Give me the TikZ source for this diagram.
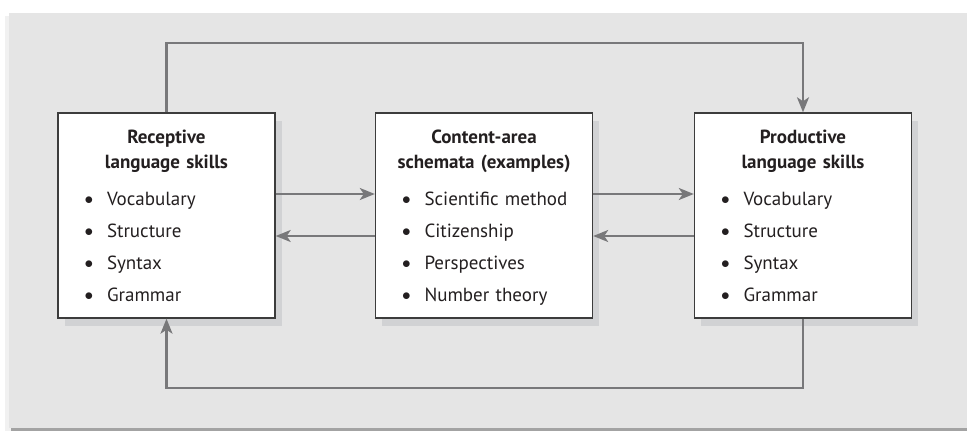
\documentclass[tikz,border=0pt]{standalone}
\usepackage{fontspec}
\setmainfont{PT Sans}
\usetikzlibrary{arrows.meta,shadows}

\definecolor{panelgray}{HTML}{E5E5E5}
\definecolor{panelshade}{HTML}{A3A3A3}
\definecolor{boxshade}{HTML}{D1D2D4}
\definecolor{linkgray}{HTML}{78787A}
\definecolor{boxline}{HTML}{3C3C3C}
\definecolor{inkblack}{HTML}{231F20}

% box title and bullet lines
\newcommand{\skillhead}[1]{{\centering\bfseries\baselineskip=25pt\rule{0pt}{30pt}#1\par}\vspace{5pt}}
\newcommand{\skillitem}[1]{\par\hspace*{31pt}\makebox[0pt]{\raisebox{1pt}{$\bullet$}}\hspace{18pt}#1}

\begin{document}
\begin{tikzpicture}[x=1pt,y=-1pt,
    skill/.style={draw=boxline, line width=1.4pt, fill=white, text=inkblack,
        drop shadow={shadow xshift=6.5pt, shadow yshift=-7.5pt, fill=boxshade, opacity=1},
        inner sep=0pt, text width=217pt, minimum height=205pt,
        font={\fontsize{19}{32}\selectfont},
        execute at begin node={\parindent=0pt\parskip=0pt},
        execute at end node={\rule[-16.5pt]{0pt}{16.5pt}}},
    link/.style={draw=linkgray, line width=2.3pt, -{Stealth[length=15pt,width=12pt,inset=4pt]}}]
    \useasboundingbox (0,0) rectangle (967,431);

    % Panel
    \fill[panelgray!55] (5,16) rectangle (967,431);
    \fill[panelshade] (11,427) rectangle (967,431);
    \fill[panelgray] (9,13) rectangle (967,428);

    % Boxes
    \node[skill] (rec) at (166.5,215.5) {\skillhead{Receptive\\language skills}%
        \skillitem{Vocabulary}\skillitem{Structure}\skillitem{Syntax}\skillitem{Grammar}};
    \node[skill] (cas) at (484,215.5) {\skillhead{Content-area\\schemata (examples)}%
        \skillitem{Scientific method}\skillitem{Citizenship}\skillitem{Perspectives}\skillitem{Number theory}};
    \node[skill] (pro) at (803,215.5) {\skillhead{Productive\\language skills}%
        \skillitem{Vocabulary}\skillitem{Structure}\skillitem{Syntax}\skillitem{Grammar}};

    % Arrows between neighbours
    \draw[link] ([yshift=21.5pt]rec.east) -- ([yshift=21.5pt]cas.west);
    \draw[link] ([yshift=-20.5pt]cas.west) -- ([yshift=-20.5pt]rec.east);
    \draw[link] ([yshift=21.5pt]cas.east) -- ([yshift=21.5pt]pro.west);
    \draw[link] ([yshift=-20.5pt]pro.west) -- ([yshift=-20.5pt]cas.east);

    % Loops over the top and under the bottom
    \draw[link] (rec.north) -- ++(0,-69) -| (pro.north);
    \draw[link] (pro.south) -- ++(0,69) -| (rec.south);
\end{tikzpicture}
\end{document}
